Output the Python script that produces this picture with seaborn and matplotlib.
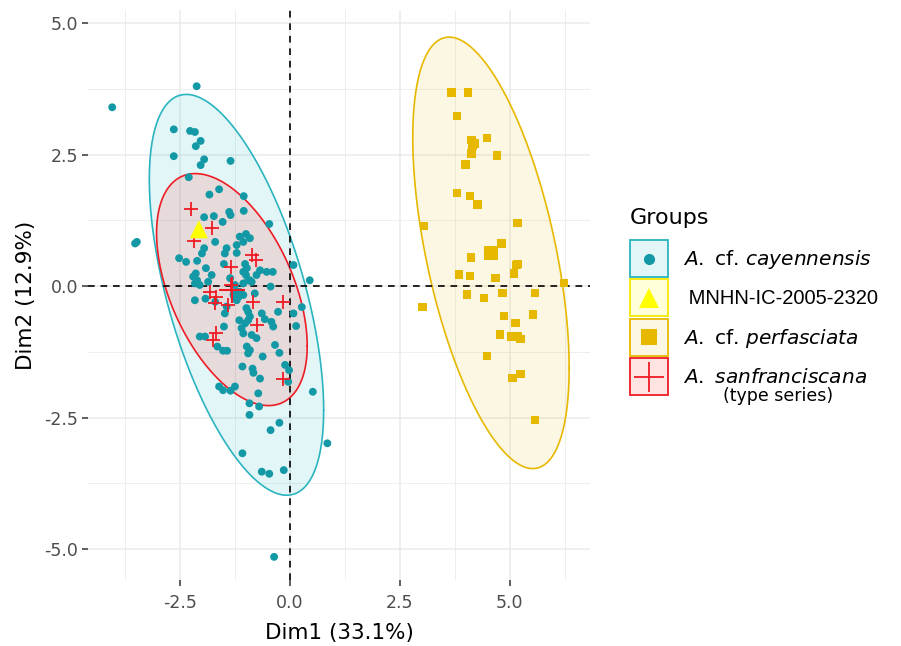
import numpy as np
import pandas as pd
import matplotlib
matplotlib.use("Agg")
import matplotlib.pyplot as plt
import seaborn as sns
from matplotlib.patches import Rectangle
from matplotlib.lines import Line2D
from matplotlib.legend_handler import HandlerBase

# ---------------- data ----------------
cay_x = [-4.04, -2.12, -2.64, -2.27, -2.16, -2.03, -2.14, -2.64, -1.95, -2.03, -1.35, -2.30,
         -1.61, -1.83, -1.05, -1.95, -1.73, -1.38, -1.35, -1.53, -1.05, -0.47, -3.48, -3.52,
         -1.70, -1.14, -1.00, -0.91, -1.06, -1.21, -1.44, -1.48, -1.21, -1.95, -2.00, -2.52,
         -2.36, -2.11, -1.91, -1.50, -1.02, -0.98, -1.06, -1.00, -0.95, -0.68, -0.53, -0.39,
         0.08, 0.45, -2.14, -2.11, -2.16, -1.78, -0.44, -2.20, -1.36, -1.25, -1.18, -1.06,
         -1.21, -0.91, -0.76, -0.80, -2.05, -1.86, -1.14, -1.06, -0.87, -2.16, -1.92, -1.70,
         -1.44, -1.48, -1.21, -0.95, -0.91, -1.02, -0.95, -0.64, -0.57, -0.42, -0.38, -0.27,
         0.08, 0.14, 0.27, -1.50, -1.06, -0.87, -0.76, -2.05, -1.93, -1.65, -1.52, -1.43,
         -0.98, -0.95, -0.91, -0.62, -0.34, -0.24, -0.11, -0.02, -0.04, -1.08, -0.85, -0.83,
         -0.68, -1.61, -1.52, -1.35, -1.25, -0.72, -0.92, -0.70, -0.92, 0.52, -0.24, -0.44,
         0.85, -1.08, -0.64, -0.47, -0.14, -0.36, -0.99, -1.15, -1.10]
cay_y = [3.40, 3.80, 2.98, 2.95, 2.93, 2.76, 2.66, 2.47, 2.41, 2.30, 2.38, 2.07,
         1.84, 1.74, 1.71, 1.31, 1.33, 1.41, 1.35, 1.22, 1.43, 1.18, 0.84, 0.81,
         0.84, 0.94, 0.99, 0.91, 0.84, 0.78, 0.72, 0.62, 0.63, 0.72, 0.62, 0.53,
         0.46, 0.48, 0.34, 0.42, 0.42, 0.34, 0.27, 0.21, 0.11, 0.30, 0.27, 0.27,
         0.40, 0.11, 0.24, 0.11, 0.05, 0.21, -0.01, 0.18, 0.15, 0.02, -0.11, -0.17,
         -0.20, 0.11, 0.21, -0.14, 0.02, 0.08, -0.11, 0.05, 0.08, -0.27, -0.24, -0.30,
         -0.39, -0.52, -0.27, -0.49, -0.58, -0.71, -0.65, -0.52, -0.63, -0.68, -0.77, -0.49,
         -0.52, -0.76, -0.40, -0.77, -0.90, -0.93, -0.99, -0.96, -0.96, -1.15, -1.23, -1.23,
         -1.15, -1.28, -1.22, -1.34, -1.12, -1.27, -1.50, -1.60, -1.82, -1.53, -1.57, -1.65,
         -1.76, -1.91, -1.98, -1.99, -1.91, -2.04, -2.23, -2.29, -2.45, -2.01, -2.60, -2.74,
         -2.99, -3.18, -3.53, -3.57, -3.50, -5.15, -0.42, -0.65, -0.80]

mnhn_x = [-2.07]
mnhn_y = [1.08]

per_x = [3.67, 4.05, 3.79, 4.13, 4.15, 4.13, 4.20, 4.48, 4.71, 3.99, 3.80, 4.09, 4.26,
         3.05, 5.17, 4.81, 4.11, 5.17, 5.15, 5.09, 3.84, 4.09, 4.67, 6.23, 4.02, 4.41,
         4.83, 5.57, 3.01, 4.86, 5.13, 5.53, 4.77, 5.02, 5.19, 5.24, 4.48, 5.06, 5.24, 5.57]
per_y = [3.68, 3.68, 3.23, 2.78, 2.66, 2.52, 2.71, 2.82, 2.48, 2.31, 1.77, 1.71, 1.55,
         1.14, 1.20, 0.81, 0.54, 0.42, 0.40, 0.24, 0.22, 0.19, 0.15, 0.06, -0.16, -0.23,
         -0.13, -0.13, -0.40, -0.57, -0.70, -0.54, -0.92, -0.96, -0.96, -1.01, -1.33, -1.75,
         -1.67, -2.55]

san_x = [-2.26, -1.78, -2.18, -0.87, -0.77, -1.35, -1.33, -1.82, -1.67, -1.70, -1.40,
         -0.83, -0.15, -0.76, -1.67, -1.74, -0.15]
san_y = [1.46, 1.10, 0.86, 0.59, 0.49, 0.37, 0.02, -0.11, -0.20, -0.33, -0.36,
         -0.30, -0.30, -0.74, -0.90, -1.03, -1.76]

groups = ["A. cf. cayennensis", "MNHN-IC-2005-2320", "A. cf. perfasciata", "A. sanfranciscana"]
legend_labels = [r"$\it{A.}$ cf. $\it{cayennensis}$", " MNHN-IC-2005-2320",
                 r"$\it{A.}$ cf. $\it{perfasciata}$", r"$\it{A.\ sanfranciscana}$"]
legend_title = "Groups"
legend_note = "(type series)"
x_ticks = [-2.5, 0.0, 2.5, 5.0]
y_ticks = [-5.0, -2.5, 0.0, 2.5, 5.0]
x_label = "Dim1 (33.1%)"
y_label = "Dim2 (12.9%)"

# ---------------- style ----------------
sns.set_theme(style="white")
plt.rcParams["font.family"] = ["DejaVu Sans"]
plt.rcParams["text.color"] = "black"
plt.rcParams["mathtext.fontset"] = "custom"
plt.rcParams["mathtext.it"] = "DejaVu Sans:italic"
plt.rcParams["mathtext.rm"] = "DejaVu Sans"

point_col = {groups[0]: "#1399A6", groups[1]: "#FFFF00", groups[2]: "#E7B800", groups[3]: "#EE1C25"}
line_col = {groups[0]: "#2AB4BF", groups[1]: "#F5E800", groups[2]: "#E7B800", groups[3]: "#EE1C25"}
fill_col = {groups[0]: "#00AFBB", groups[1]: "#FFFF00", groups[2]: "#E7B800", groups[3]: "#FF0000"}
marker = {groups[0]: "o", groups[1]: "^", groups[2]: "s", groups[3]: "+"}
sizes = {groups[0]: 32, groups[1]: 170, groups[2]: 36, groups[3]: 110}

data = {
    groups[0]: (cay_x, cay_y),
    groups[1]: (mnhn_x, mnhn_y),
    groups[2]: (per_x, per_y),
    groups[3]: (san_x, san_y),
}
frames = []
for g, (xs, ys) in data.items():
    frames.append(pd.DataFrame({"Dim1": xs, "Dim2": ys, "Groups": g}))
df = pd.concat(frames, ignore_index=True)

fig = plt.figure(figsize=(9.01, 6.46), dpi=100)
ax = fig.add_axes([88 / 901, 1 - 580 / 646, (590 - 88) / 901, (580 - 10) / 646])

LEVEL = 0.95


def ellipse_pts(xs, ys, n=240):
    # same construction as ggplot2::stat_ellipse(type = "norm")
    xs = np.asarray(xs); ys = np.asarray(ys)
    c = np.cov(xs, ys)
    d = len(xs) - 1
    qf = (d / 2.0) * ((1 - LEVEL) ** (-2.0 / d) - 1)   # F(2, d) quantile
    radius = np.sqrt(2 * qf)
    chol = np.linalg.cholesky(c)
    t = np.linspace(0, 2 * np.pi, n)
    circ = np.vstack([np.cos(t), np.sin(t)])
    pts = radius * (chol @ circ)
    return xs.mean() + pts[0], ys.mean() + pts[1]


for g in [groups[0], groups[2], groups[3]]:
    ex, ey = ellipse_pts(*data[g])
    ax.fill(ex, ey, color=fill_col[g], alpha=0.11, lw=0, zorder=1)
    ax.plot(ex, ey, color=line_col[g], lw=1.2, zorder=2)

ax.axhline(0, color="black", ls=(0, (4, 3.5)), lw=1.2, zorder=2.5)
ax.axvline(0, color="black", ls=(0, (4, 3.5)), lw=1.2, zorder=2.5)

for g in [groups[0], groups[2], groups[3], groups[1]]:
    sub = df[df.Groups == g]
    kw = dict(edgecolor="none") if marker[g] != "+" else dict(linewidth=1.3)
    sns.scatterplot(data=sub, x="Dim1", y="Dim2", color=point_col[g], marker=marker[g],
                    s=sizes[g], ax=ax, legend=False, zorder=3, **kw)
    # group mean point (bigger)
    if len(sub) > 1:
        mx, my = sub.Dim1.mean(), sub.Dim2.mean()
        ax.scatter([mx], [my], color=point_col[g], marker=marker[g], s=sizes[g] * 3.0,
                   zorder=3, **({"edgecolor": "none"} if marker[g] != "+" else {"linewidth": 1.5}))

ax.set_xlim(-4.59, 6.82)
ax.set_ylim(-5.59, 5.25)
ax.set_xticks(x_ticks)
ax.set_yticks(y_ticks)
ax.set_xticks([-3.75, -1.25, 1.25, 3.75, 6.25], minor=True)
ax.set_yticks([-3.75, -1.25, 1.25, 3.75], minor=True)
ax.grid(True, which="major", color="#EBEBEB", lw=1.1, zorder=0)
ax.grid(True, which="minor", color="#EBEBEB", lw=0.6, zorder=0)
ax.set_axisbelow(True)
for s in ax.spines.values():
    s.set_visible(False)
ax.tick_params(axis="both", which="major", length=4, width=1.1, color="#333333",
               labelcolor="#4D4D4D", labelsize=12.5, pad=3, bottom=True, left=True)
ax.tick_params(axis="x", which="major", pad=6)
ax.tick_params(axis="both", which="minor", length=0)
ax.set_xticklabels([f"{v:.1f}" for v in x_ticks])
ax.set_yticklabels([f"{v:.1f}" for v in y_ticks])
ax.set_xlabel(x_label, fontsize=15.5, color="black", labelpad=8)
ax.set_ylabel(y_label, fontsize=15.5, color="black", labelpad=6)


class BoxHandler(HandlerBase):
    def __init__(self, g):
        super().__init__()
        self.g = g

    def create_artists(self, legend, orig_handle, xdescent, ydescent, width, height, fontsize, trans):
        g = self.g
        r = Rectangle((-xdescent, -ydescent), width, height,
                      facecolor=matplotlib.colors.to_rgba(fill_col[g], 0.11 if g != groups[1] else 0.15),
                      edgecolor=line_col[g], lw=1.3, transform=trans)
        ms = {"o": 8, "^": 14, "s": 11, "+": 22}[marker[g]]
        l = Line2D([width / 2 - xdescent], [height / 2 - ydescent], marker=marker[g], ms=ms,
                   color=point_col[g], mec=point_col[g] if marker[g] == "+" else "none",
                   mew=1.3, ls="none", transform=trans)
        return [r, l]


handles = [Line2D([], [], label=lbl) for lbl in legend_labels]
handler_map = {h: BoxHandler(g) for h, g in zip(handles, groups)}
leg = fig.legend(handles=handles, labels=legend_labels, handler_map=handler_map,
                 loc="upper left", bbox_to_anchor=(630 / 901, 1 - 240 / 646),
                 frameon=False, fontsize=14.5, borderaxespad=0, labelcolor="black",
                 handlelength=1.89, handleheight=2.45, labelspacing=0.12, handletextpad=0.72,
                 borderpad=0)
leg.get_texts()[1].set_fontfamily("Liberation Sans")
leg.get_texts()[1].set_fontsize(14.5)
fig.text(630 / 901, 1 - 218 / 646, legend_title, fontsize=16, ha="left", va="center", color="black")
fig.text(778 / 901, 1 - 396 / 646, legend_note, fontsize=12.5, ha="center", va="center", color="black")

fig.savefig("out.png", dpi=100)
